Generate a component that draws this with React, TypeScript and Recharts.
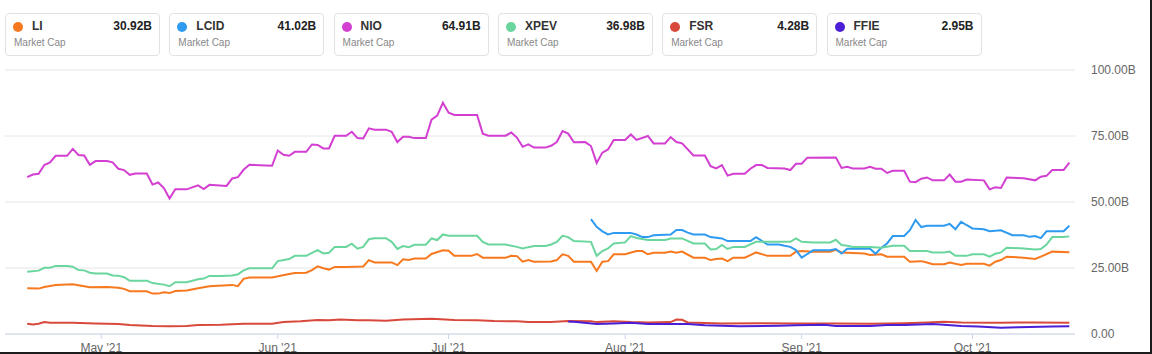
import { LineChart, Line, XAxis, YAxis, CartesianGrid } from 'recharts';

// day offsets from Apr 18 2021, market cap in billions
const liData: [number, number][] = [
  [0, 17.3], [2, 17.2], [3, 17.8], [5, 18.6], [8, 18.8], [9, 18.5], [11, 17.7], [14, 17.8], [16, 17.5],
  [17, 17.1], [18, 16.2], [21, 16.2], [22, 15.3], [23, 15.3], [24, 15.8], [25, 15.5], [26, 16.3],
  [28, 16.5], [30, 17.3], [32, 18.1], [36, 18.6], [37, 18.1], [38, 20.9], [39, 21.4], [43, 21.4],
  [46, 22.7], [47, 23.1], [49, 23.2], [50, 24.2], [51, 25.6], [52, 24.9], [53, 24.4], [54, 25.4],
  [56, 25.4], [59, 25.6], [60, 28.0], [61, 27.1], [64, 27.1], [65, 26.1], [66, 28.3], [67, 28.0],
  [68, 28.6], [70, 28.6], [71, 30.3], [73, 31.7], [74, 31.5], [75, 29.6], [78, 29.6], [79, 30.3],
  [80, 28.9], [84, 28.9], [85, 29.6], [86, 29.5], [87, 27.4], [88, 28.0], [89, 27.4], [92, 27.5],
  [93, 28.0], [94, 30.2], [95, 29.6], [96, 27.4], [99, 27.4], [100, 23.9], [101, 27.4], [102, 27.6],
  [103, 30.2], [105, 30.2], [107, 31.4], [108, 31.4], [109, 30.2], [110, 30.8], [112, 30.8],
  [113, 31.2], [114, 30.8], [115, 31.2], [117, 28.9], [119, 28.9], [120, 28.0], [121, 28.4],
  [122, 28.6], [123, 27.6], [124, 28.9], [126, 28.9], [127, 29.9], [128, 30.9], [130, 29.6],
  [134, 29.6], [135, 31.2], [136, 31.4], [138, 31.2], [141, 31.2], [142, 31.9], [143, 30.9],
  [147, 30.5], [148, 29.9], [150, 30.2], [151, 29.3], [154, 29.3], [155, 27.4], [157, 27.6],
  [158, 27.1], [159, 26.4], [161, 26.4], [162, 27.1], [164, 26.1], [165, 26.6], [168, 26.6],
  [169, 25.9], [170, 27.4], [171, 28.0], [172, 29.3], [175, 28.9], [177, 28.4], [178, 29.3],
  [180, 31.2], [183, 30.92],
];

const lcidData: [number, number][] = [
  [99, 43.5], [100, 40.6], [101, 38.9], [102, 37.7], [103, 38.3], [106, 38.3], [107, 37.7],
  [108, 36.7], [109, 36.7], [110, 37.4], [113, 37.7], [114, 39.4], [115, 39.4], [116, 38.4],
  [117, 37.7], [119, 37.7], [120, 36.7], [122, 36.2], [123, 35.2], [127, 35.2], [128, 36.7],
  [129, 35.3], [130, 33.9], [132, 33.9], [133, 33.4], [134, 33.0], [135, 31.8], [136, 28.9],
  [137, 30.3], [138, 31.7], [141, 31.7], [142, 32.2], [143, 30.5], [144, 32.3], [148, 32.3],
  [149, 30.4], [150, 32.7], [151, 34.3], [152, 37.1], [154, 37.1], [155, 39.3], [156, 43.2],
  [157, 40.5], [158, 41.0], [161, 41.0], [162, 41.7], [163, 39.7], [164, 42.5], [165, 41.2],
  [166, 40.0], [168, 39.7], [169, 38.9], [171, 39.3], [173, 37.4], [175, 37.4], [176, 36.8],
  [177, 37.1], [178, 36.3], [179, 38.9], [182, 38.9], [183, 41.02],
];

const nioData: [number, number][] = [
  [0, 59.4], [1, 60.4], [2, 60.7], [3, 64.0], [4, 65.0], [5, 67.5], [7, 67.5], [8, 70.1], [9, 67.8],
  [10, 67.6], [11, 64.1], [12, 65.5], [14, 65.5], [15, 65.0], [16, 62.6], [17, 62.1], [18, 60.3],
  [19, 60.8], [21, 60.8], [22, 56.6], [23, 57.4], [24, 55.3], [25, 51.3], [26, 54.8], [28, 54.8],
  [30, 56.3], [31, 54.9], [32, 56.5], [35, 56.1], [36, 58.9], [37, 59.4], [38, 62.2], [39, 64.1],
  [43, 63.7], [44, 69.5], [45, 67.9], [46, 67.5], [47, 69.0], [49, 69.0], [50, 71.8], [51, 71.6],
  [52, 70.3], [53, 70.3], [54, 75.1], [56, 75.1], [57, 76.6], [58, 74.2], [59, 74.1], [60, 77.9],
  [61, 77.4], [63, 77.4], [64, 76.6], [65, 72.7], [66, 74.7], [67, 74.7], [68, 74.2], [70, 74.2],
  [71, 81.2], [72, 82.7], [73, 87.6], [74, 83.8], [75, 83.0], [79, 83.0], [80, 75.9], [81, 75.1],
  [84, 75.1], [85, 76.3], [86, 74.4], [87, 70.9], [88, 71.8], [89, 70.6], [91, 70.6], [92, 71.3],
  [93, 72.7], [94, 76.9], [95, 75.9], [96, 72.6], [98, 72.7], [99, 71.2], [100, 64.8], [101, 68.7],
  [102, 69.9], [103, 73.5], [105, 73.5], [106, 75.6], [107, 73.5], [109, 75.0], [110, 72.2],
  [112, 72.2], [113, 74.6], [114, 72.7], [115, 72.2], [117, 67.6], [119, 67.6], [120, 63.6],
  [121, 62.7], [122, 64.0], [123, 60.0], [124, 60.7], [126, 60.7], [127, 62.6], [128, 64.0],
  [129, 64.0], [130, 62.9], [133, 62.7], [134, 62.1], [135, 64.5], [136, 64.5], [137, 66.8],
  [142, 66.9], [143, 62.9], [144, 63.3], [145, 62.7], [147, 62.7], [148, 63.3], [149, 62.6],
  [150, 62.6], [151, 61.0], [152, 61.8], [154, 61.8], [155, 57.7], [156, 57.5], [157, 58.8],
  [158, 59.3], [159, 58.2], [161, 58.2], [162, 60.4], [163, 57.7], [164, 57.7], [165, 58.5],
  [168, 58.2], [169, 54.8], [170, 55.6], [171, 55.3], [172, 59.3], [175, 59.0], [177, 58.2],
  [178, 59.6], [179, 59.9], [180, 62.1], [182, 62.1], [183, 64.91],
];

const xpevData: [number, number][] = [
  [0, 23.6], [2, 24.0], [3, 25.1], [4, 25.1], [5, 25.8], [7, 25.8], [8, 25.5], [9, 24.2], [10, 24.1],
  [11, 23.2], [12, 22.9], [14, 22.9], [15, 22.2], [16, 22.1], [17, 21.5], [18, 20.2], [21, 20.2],
  [22, 19.3], [24, 18.7], [25, 18.1], [26, 19.6], [28, 19.6], [30, 20.7], [31, 21.0], [32, 22.0],
  [34, 22.0], [36, 22.2], [37, 22.6], [38, 24.1], [39, 24.9], [43, 24.9], [44, 27.6], [46, 28.4],
  [47, 29.6], [49, 29.6], [50, 30.7], [51, 31.8], [52, 30.5], [53, 30.8], [54, 33.0], [56, 33.0],
  [57, 34.2], [58, 32.3], [59, 33.0], [60, 35.9], [61, 36.3], [63, 36.3], [64, 34.9], [65, 32.2],
  [66, 33.3], [67, 32.9], [68, 33.8], [70, 33.8], [71, 36.2], [72, 35.6], [73, 37.7], [74, 37.2],
  [79, 37.2], [80, 34.9], [81, 33.9], [84, 33.9], [85, 33.4], [86, 33.0], [87, 32.4], [88, 32.9],
  [89, 33.3], [91, 33.3], [92, 33.9], [93, 34.9], [94, 37.2], [95, 36.7], [96, 35.2], [99, 34.9],
  [100, 29.6], [101, 31.4], [102, 32.4], [103, 34.3], [105, 34.7], [106, 37.1], [107, 36.4],
  [109, 35.6], [112, 35.6], [113, 36.2], [115, 36.2], [117, 34.3], [119, 34.3], [120, 32.0],
  [121, 32.2], [122, 33.7], [123, 32.2], [124, 33.0], [126, 33.0], [128, 34.9], [134, 34.9],
  [135, 36.2], [136, 34.9], [138, 34.7], [141, 34.7], [142, 35.7], [143, 33.7], [144, 33.4],
  [145, 33.0], [148, 33.0], [150, 32.7], [152, 33.4], [154, 33.4], [155, 31.4], [158, 31.4],
  [159, 30.9], [161, 30.9], [162, 31.2], [163, 29.6], [165, 29.6], [166, 30.2], [168, 30.2],
  [169, 29.3], [170, 30.4], [171, 30.9], [172, 32.7], [175, 32.4], [177, 32.0], [178, 32.2],
  [179, 33.9], [180, 36.7], [182, 36.7], [183, 36.98],
];

const fsrData: [number, number][] = [
  [0, 3.9], [1, 3.6], [2, 3.9], [3, 4.5], [4, 4.3], [8, 4.3], [12, 4.0], [16, 3.8], [18, 3.4],
  [22, 3.0], [25, 2.9], [28, 3.0], [30, 3.4], [34, 3.5], [38, 3.9], [43, 3.9], [45, 4.5], [48, 4.8],
  [51, 5.3], [53, 5.2], [55, 5.5], [58, 5.2], [60, 5.2], [63, 5.0], [66, 5.5], [71, 5.8], [75, 5.3],
  [79, 5.2], [82, 4.9], [86, 4.8], [88, 4.5], [92, 4.5], [95, 4.9], [99, 4.8], [100, 4.5],
  [103, 4.8], [106, 4.5], [109, 4.4], [113, 4.5], [114, 5.5], [115, 5.4], [116, 4.4], [122, 4.0],
  [129, 4.1], [135, 4.0], [142, 4.0], [148, 3.9], [154, 4.1], [158, 4.4], [161, 4.6], [164, 4.4],
  [171, 4.3], [177, 4.4], [183, 4.28],
];

const ffieData: [number, number][] = [
  [95, 4.7], [96, 4.6], [100, 3.8], [103, 4.0], [106, 4.3], [109, 3.8], [116, 3.8], [119, 3.3],
  [125, 2.9], [132, 3.1], [135, 3.3], [140, 3.5], [142, 3.0], [148, 3.0], [151, 3.4], [154, 3.4],
  [159, 3.8], [161, 3.5], [164, 3.0], [167, 2.8], [171, 2.4], [174, 2.6], [180, 2.8], [183, 2.95],
];

const tickers = ['LI', 'LCID', 'NIO', 'XPEV', 'FSR', 'FFIE'];
const lastValues = ['30.92B', '41.02B', '64.91B', '36.98B', '4.28B', '2.95B'];
const colors = ['#f7791f', '#2f9bf0', '#d33fd1', '#6ad69d', '#d8493b', '#4a1fd6'];
const allSeries = [liData, lcidData, nioData, xpevData, fsrData, ffieData];

const monthTicks = [13, 44, 74, 105, 136, 166];
const monthLabels = ["May '21", "Jun '21", "Jul '21", "Aug '21", "Sep '21", "Oct '21"];
const yTicks = [0, 25, 50, 75, 100];

const font = '"Liberation Sans", Arial, sans-serif';

const LegendCard = ({ i }: { i: number }) => (
  <div
    style={{
      position: 'absolute',
      left: 5 + i * 164.3,
      top: 13,
      width: 155,
      height: 43,
      boxSizing: 'border-box',
      border: '1px solid #e2e2e2',
      borderRadius: 4,
      background: '#fff',
      fontFamily: font,
    }}
  >
    <div
      style={{
        position: 'absolute',
        left: 7,
        top: 8,
        width: 10,
        height: 10,
        borderRadius: '50%',
        background: colors[i],
      }}
    />
    <div style={{ position: 'absolute', left: 26, top: 5, fontSize: 12, fontWeight: 700, color: '#333' }}>
      {tickers[i]}
    </div>
    <div style={{ position: 'absolute', right: 7, top: 5, fontSize: 12, fontWeight: 700, color: '#222' }}>
      {lastValues[i]}
    </div>
    <div style={{ position: 'absolute', left: 8, top: 23, fontSize: 10, color: '#888' }}>Market Cap</div>
  </div>
);

const App = () => {
  return (
    <div
      style={{
        position: 'absolute',
        left: 0,
        top: 0,
        width: 1152,
        height: 354,
        background: '#fff',
        overflow: 'hidden',
        fontFamily: font,
      }}
    >
      {tickers.map((_, i) => (
        <LegendCard key={i} i={i} />
      ))}
      <div style={{ position: 'absolute', left: 0, top: 60 }}>
        <LineChart width={1152} height={294} margin={{ top: 10, right: 0, bottom: 0, left: 5 }}>
          <CartesianGrid vertical={false} stroke="#e6e6e6" />
          <XAxis
            dataKey="day"
            type="number"
            domain={[-3.9, 184]}
            ticks={monthTicks}
            tickFormatter={(d: number) => monthLabels[monthTicks.indexOf(d)]}
            stroke="#ccd6eb"
            tickSize={5}
            tickMargin={4}
            height={20}
            allowDataOverflow
            tick={{ fill: '#666', fontSize: 12 }}
          />
          <YAxis
            orientation="right"
            domain={[0, 100]}
            ticks={yTicks}
            width={77}
            axisLine={false}
            tickLine={false}
            tickMargin={10}
            tickFormatter={(v: number) => (v === 0 ? '0.00' : `${v.toFixed(2)}B`)}
            tick={{ fill: '#666', fontSize: 12 }}
          />
          {allSeries.map((s, i) => (
            <Line
              key={tickers[i]}
              data={s.map(([day, v]) => ({ day, v }))}
              dataKey="v"
              name={tickers[i]}
              type="linear"
              stroke={colors[i]}
              strokeWidth={2}
              dot={false}
              activeDot={false}
              isAnimationActive={false}
            />
          ))}
        </LineChart>
      </div>
      <div style={{ position: 'absolute', left: 1150, top: 0, width: 2, height: 354, background: '#1c1c1c' }} />
      <div style={{ position: 'absolute', left: 0, top: 352, width: 1152, height: 2, background: '#1c1c1c' }} />
    </div>
  );
};

export default App;
